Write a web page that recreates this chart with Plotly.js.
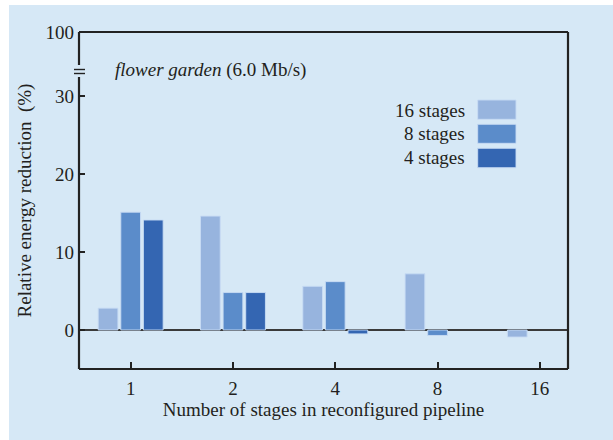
<!DOCTYPE html>
<html>
<head>
<meta charset="utf-8">
<script src="https://cdn.plot.ly/plotly-3.0.1.min.js"></script>
<style>html,body{margin:0;padding:0;background:#fff}#chart{width:613px;height:440px}</style>
</head>
<body>
<div id="chart"></div>
<script>
// Data
const categories = ['1', '2', '4', '8', '16'];
const seriesNames = ['16 stages', '8 stages', '4 stages'];
const stages16 = [2.8, 14.6, 5.6, 7.2, -0.9];
const stages8 = [15.1, 4.8, 6.2, -0.7, null];
const stages4 = [14.1, 4.8, -0.5, null, null];
const yTickVals = [0, 10, 20, 30, 38.2];
const yTickText = ['0', '10', '20', '30', '100'];

const colors = ['#97b4de', '#5b8cca', '#3466b2'];
const seriesValues = [stages16, stages8, stages4];
const FONT = 'Liberation Serif, Times New Roman, serif';
const TXT = '#231f20';
const BG = '#d6e8f6';

const traces = seriesNames.map((name, i) => ({
  type: 'bar',
  name: name,
  x: categories,
  y: seriesValues[i],
  marker: {color: colors[i], line: {color: 'rgba(200,220,244,0.9)', width: 1}},
  showlegend: false,
  hoverinfo: 'x+y+name'
}));

// pixel helpers for layout positioning (plot frame: x 79..568, y 32..369)
const L = 79, R = 568, T = 32, B = 369;
const px = v => (v - L) / (R - L);
const py = v => (B - v) / (B - T);

const shapes = [
  // background panel
  {type: 'rect', xref: 'paper', yref: 'paper', x0: px(9), x1: px(613), y0: py(440), y1: py(5),
   fillcolor: BG, line: {width: 0}, layer: 'below'},
  // frame
  {type: 'line', xref: 'paper', yref: 'paper', x0: 0, x1: 1, y0: 1, y1: 1, line: {color: '#222', width: 2.2}},
  {type: 'line', xref: 'paper', yref: 'paper', x0: 0, x1: 1, y0: 0, y1: 0, line: {color: '#222', width: 2.2}},
  {type: 'line', xref: 'paper', yref: 'paper', x0: 1, x1: 1, y0: 0, y1: 1, line: {color: '#222', width: 2.2}},
  {type: 'line', xref: 'paper', yref: 'paper', x0: 0, x1: 0, y0: 0, y1: py(77), line: {color: '#222', width: 2.2}},
  {type: 'line', xref: 'paper', yref: 'paper', x0: 0, x1: 0, y0: py(65), y1: 1, line: {color: '#222', width: 2.2}},
  // axis break marks
  {type: 'line', xref: 'paper', yref: 'paper', x0: px(74), x1: px(85), y0: py(69.5), y1: py(69.5), line: {color: '#222', width: 1.4}},
  {type: 'line', xref: 'paper', yref: 'paper', x0: px(74), x1: px(85), y0: py(73.5), y1: py(73.5), line: {color: '#222', width: 1.4}}
];

const swatchRows = [[100, 119.3], [124.3, 143.3], [148.3, 167.7]];
const legendTextY = [110, 133.5, 157.5];
const annotations = [
  {xref: 'paper', yref: 'paper', x: px(113), y: py(70), xanchor: 'left', yanchor: 'middle', showarrow: false,
   text: '<i>flower garden</i> (6.0 Mb/s)', font: {family: FONT, size: 19, color: TXT}}
];
seriesNames.forEach((name, i) => {
  annotations.push({xref: 'paper', yref: 'paper', x: px(467), y: py(legendTextY[i]), xanchor: 'right', yanchor: 'middle',
    showarrow: false, text: name, font: {family: FONT, size: 19, color: TXT}});
  shapes.push({type: 'rect', xref: 'paper', yref: 'paper', x0: px(477.7), x1: px(516),
    y0: py(swatchRows[i][1]), y1: py(swatchRows[i][0]), fillcolor: colors[i], line: {color: 'rgba(200,220,244,0.9)', width: 1}});
});

const layout = {
  width: 613, height: 440,
  margin: {l: L, r: 613 - R, t: T, b: 440 - B, pad: 0},
  paper_bgcolor: '#ffffff',
  plot_bgcolor: 'rgba(0,0,0,0)',
  font: {family: FONT, size: 19, color: TXT},
  barmode: 'group',
  bargap: 0.337,
  bargroupgap: 0.128,
  xaxis: {
    type: 'category', categoryorder: 'array', categoryarray: categories,
    range: [-0.505, 4.275], fixedrange: true,
    showline: false, showgrid: false, zeroline: false,
    ticks: 'inside', ticklen: 7, tickwidth: 2, tickcolor: '#222',
    ticklabelstandoff: 6,
    tickfont: {family: FONT, size: 19, color: TXT},
    title: {text: 'Number of stages in reconfigured pipeline', font: {family: FONT, size: 19, color: TXT}, standoff: 3},
    automargin: false
  },
  yaxis: {
    range: [-5, 38.2], fixedrange: true,
    tickmode: 'array', tickvals: yTickVals, ticktext: yTickText,
    showline: false, showgrid: false,
    zeroline: true, zerolinecolor: '#3a3a3a', zerolinewidth: 2.2,
    ticks: 'inside', ticklen: 6, tickwidth: 2, tickcolor: '#222',
    ticklabelstandoff: 4,
    tickfont: {family: FONT, size: 19, color: TXT},
    title: {text: 'Relative energy reduction  (%)', font: {family: FONT, size: 19, color: TXT}, standoff: 8},
    automargin: false
  },
  shapes: shapes,
  annotations: annotations,
  showlegend: false
};

Plotly.newPlot('chart', traces, layout, {displayModeBar: false, staticPlot: true});
</script>
</body>
</html>
